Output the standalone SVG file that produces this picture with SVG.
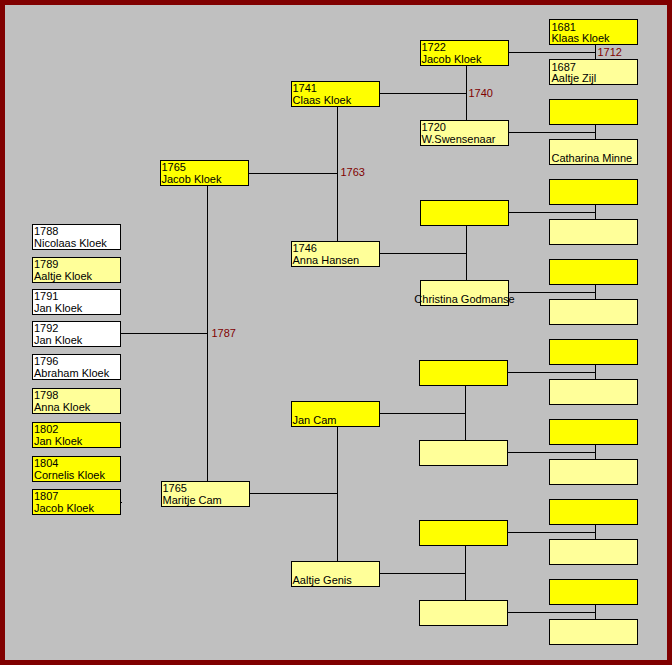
<svg xmlns="http://www.w3.org/2000/svg" width="672" height="665" viewBox="0 0 672 665">
<style>
.b{stroke:#000;stroke-width:1}
.y{fill:#ffff00}
.l{fill:#ffff99}
.w{fill:#ffffff}
text{font-family:"Liberation Sans",Arial,sans-serif;font-size:11px;fill:#000}
.yr{fill:#800000}
.c{stroke:#000;stroke-width:1;fill:none}
</style>
<rect x="0" y="0" width="672" height="665" fill="#800000"/>
<rect x="5" y="5" width="662" height="655" fill="#c0c0c0"/>
<g id="connectors">
<path class="c" d="M508,52.5H595.5M595.5,44V59"/>
<path class="c" d="M379,93.5H466.5M466.5,65V120"/>
<path class="c" d="M508,132.5H595.5M595.5,124V139"/>
<path class="c" d="M248,173.5H337.5M337.5,106V241"/>
<path class="c" d="M508,212.5H595.5M595.5,204V219"/>
<path class="c" d="M379,253.5H466.5M466.5,225V280"/>
<path class="c" d="M508,292.5H595.5M595.5,284V299"/>
<path class="c" d="M120,333.5H207.5M207.5,185V481"/>
<path class="c" d="M507,372.5H595.5M595.5,364V379"/>
<path class="c" d="M379,413.5H465.5M465.5,385V440"/>
<path class="c" d="M507,452.5H595.5M595.5,444V459"/>
<path class="c" d="M249,493.5H337.5M337.5,426V561"/>
<path class="c" d="M120,502.5H122"/>
<path class="c" d="M507,532.5H595.5M595.5,524V539"/>
<path class="c" d="M379,573.5H465.5M465.5,545V600"/>
<path class="c" d="M507,612.5H595.5M595.5,604V619"/>
<text class="yr" x="597.5" y="56">1712</text>
<text class="yr" x="468.5" y="97">1740</text>
<text class="yr" x="340.5" y="176">1763</text>
<text class="yr" x="211.5" y="337">1787</text>
</g>
<g id="n1681"><rect class="b y" x="549.5" y="19.5" width="88" height="25"/><text x="551.5" y="31">1681</text><text x="551.5" y="42">Klaas Kloek</text></g>
<g id="n1687"><rect class="b l" x="549.5" y="59.5" width="88" height="25"/><text x="551.5" y="71">1687</text><text x="551.5" y="82">Aaltje Zijl</text></g>
<g id="r3"><rect class="b y" x="549.5" y="99.5" width="88" height="25"/></g>
<g id="r4"><rect class="b l" x="549.5" y="139.5" width="88" height="25"/><text x="551.5" y="162">Catharina Minne</text></g>
<g id="r5"><rect class="b y" x="549.5" y="179.5" width="88" height="25"/></g>
<g id="r6"><rect class="b l" x="549.5" y="219.5" width="88" height="25"/></g>
<g id="r7"><rect class="b y" x="549.5" y="259.5" width="88" height="25"/></g>
<g id="r8"><rect class="b l" x="549.5" y="299.5" width="88" height="25"/></g>
<g id="r9"><rect class="b y" x="549.5" y="339.5" width="88" height="25"/></g>
<g id="r10"><rect class="b l" x="549.5" y="379.5" width="88" height="25"/></g>
<g id="r11"><rect class="b y" x="549.5" y="419.5" width="88" height="25"/></g>
<g id="r12"><rect class="b l" x="549.5" y="459.5" width="88" height="25"/></g>
<g id="r13"><rect class="b y" x="549.5" y="499.5" width="88" height="25"/></g>
<g id="r14"><rect class="b l" x="549.5" y="539.5" width="88" height="25"/></g>
<g id="r15"><rect class="b y" x="549.5" y="579.5" width="88" height="25"/></g>
<g id="r16"><rect class="b l" x="549.5" y="619.5" width="88" height="25"/></g>
<g id="n1722"><rect class="b y" x="420.5" y="40.5" width="88" height="25"/><text x="421.5" y="51">1722</text><text x="421.5" y="63">Jacob Kloek</text></g>
<g id="n1720"><rect class="b l" x="420.5" y="120.5" width="88" height="25"/><text x="421.5" y="131">1720</text><text x="421.5" y="143">W.Swensenaar</text></g>
<g id="g3"><rect class="b y" x="420.5" y="200.5" width="88" height="25"/></g>
<g id="christina"><rect class="b l" x="420.5" y="280.5" width="88" height="25"/><text x="464.5" y="303" text-anchor="middle">Christina Godmanse</text></g>
<g id="g5"><rect class="b y" x="419.5" y="360.5" width="88" height="25"/></g>
<g id="g6"><rect class="b l" x="419.5" y="440.5" width="88" height="25"/></g>
<g id="g7"><rect class="b y" x="419.5" y="520.5" width="88" height="25"/></g>
<g id="g8"><rect class="b l" x="419.5" y="600.5" width="88" height="25"/></g>
<g id="n1741"><rect class="b y" x="291.5" y="81.5" width="88" height="25"/><text x="292.5" y="92">1741</text><text x="292.5" y="104">Claas Kloek</text></g>
<g id="n1746"><rect class="b l" x="291.5" y="241.5" width="88" height="25"/><text x="292.5" y="252">1746</text><text x="292.5" y="264">Anna Hansen</text></g>
<g id="jancam"><rect class="b y" x="291.5" y="401.5" width="88" height="25"/><text x="292.5" y="424">Jan Cam</text></g>
<g id="aaltjegenis"><rect class="b l" x="291.5" y="561.5" width="88" height="25"/><text x="292.5" y="584">Aaltje Genis</text></g>
<g id="n1765j"><rect class="b y" x="160.5" y="160.5" width="88" height="25"/><text x="161.5" y="171">1765</text><text x="161.5" y="183">Jacob Kloek</text></g>
<g id="n1765m"><rect class="b l" x="161.5" y="481.5" width="88" height="25"/><text x="162.5" y="492">1765</text><text x="162.5" y="504">Maritje Cam</text></g>
<g id="c1788"><rect class="b w" x="32.5" y="224.5" width="88" height="25"/><text x="34" y="235">1788</text><text x="34" y="247">Nicolaas Kloek</text></g>
<g id="c1789"><rect class="b l" x="32.5" y="257.5" width="88" height="25"/><text x="34" y="268">1789</text><text x="34" y="280">Aaltje Kloek</text></g>
<g id="c1791"><rect class="b w" x="32.5" y="289.5" width="88" height="25"/><text x="34" y="300">1791</text><text x="34" y="312">Jan Kloek</text></g>
<g id="c1792"><rect class="b w" x="32.5" y="321.5" width="88" height="25"/><text x="34" y="332">1792</text><text x="34" y="344">Jan Kloek</text></g>
<g id="c1796"><rect class="b w" x="32.5" y="354.5" width="88" height="25"/><text x="34" y="365">1796</text><text x="34" y="377">Abraham Kloek</text></g>
<g id="c1798"><rect class="b l" x="32.5" y="388.5" width="88" height="25"/><text x="34" y="399">1798</text><text x="34" y="411">Anna Kloek</text></g>
<g id="c1802"><rect class="b y" x="32.5" y="422.5" width="88" height="25"/><text x="34" y="433">1802</text><text x="34" y="445">Jan Kloek</text></g>
<g id="c1804"><rect class="b y" x="32.5" y="456.5" width="88" height="25"/><text x="34" y="467">1804</text><text x="34" y="479">Cornelis Kloek</text></g>
<g id="c1807"><rect class="b y" x="32.5" y="489.5" width="88" height="25"/><text x="34" y="500">1807</text><text x="34" y="512">Jacob Kloek</text></g>
</svg>
